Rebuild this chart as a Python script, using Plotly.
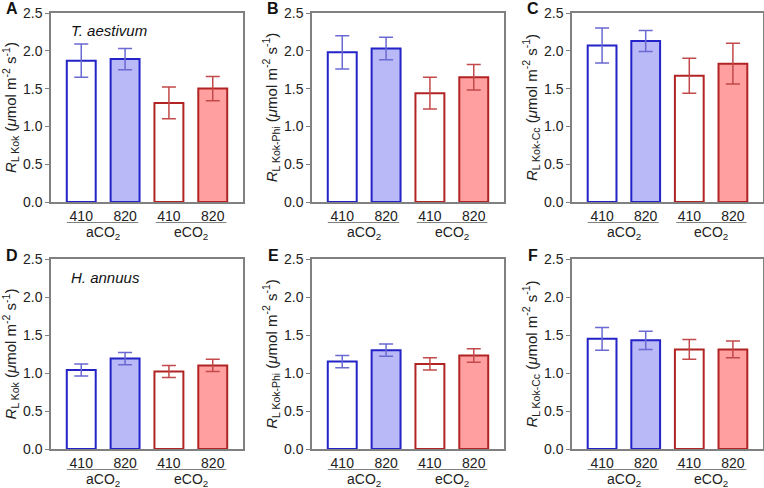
import plotly.graph_objects as go

# bar labels (CO2 growth level) and groups
tick_labels = ["410", "820", "410", "820"]
groups = ["aCO<sub>2</sub>", "eCO<sub>2</sub>"]

# means and error values, panels A-F
a_mean = [1.87, 1.89, 1.31, 1.50]
a_err = [0.22, 0.14, 0.21, 0.16]
b_mean = [1.98, 2.03, 1.44, 1.65]
b_err = [0.22, 0.15, 0.21, 0.17]
c_mean = [2.07, 2.13, 1.67, 1.83]
c_err = [0.23, 0.14, 0.23, 0.27]
d_mean = [1.04, 1.19, 1.02, 1.10]
d_err = [0.08, 0.08, 0.08, 0.08]
e_mean = [1.15, 1.30, 1.12, 1.23]
e_err = [0.08, 0.08, 0.08, 0.09]
f_mean = [1.45, 1.43, 1.31, 1.31]
f_err = [0.15, 0.12, 0.13, 0.11]

letters = ["A", "B", "C", "D", "E", "F"]
subs = ["L Kok", "L Kok-Phi", "L Kok-Cc", "L Kok", "L Kok-Phi", "L Kok-Cc"]
species = {0: "T. aestivum", 3: "H. annuus"}
means = [a_mean, b_mean, c_mean, d_mean, e_mean, f_mean]
errs = [a_err, b_err, c_err, d_err, e_err, f_err]

W, H = 764, 488
col_px = [(51, 243), (312, 504), (572, 763)]
row_px = [(13, 202), (259, 449)]

BLUE = "#2323c8"
BLUE_FILL = "#b9b9f7"
BLUE_ERR = "#6a6ad2"
RED = "#b22424"
RED_FILL = "#ff9f9f"
RED_ERR = "#c24a4a"
FRAME = "#808080"
FONT = "Liberation Sans, Arial, sans-serif"

fig = go.Figure()
annotations = []
shapes = []

for i in range(6):
    r, c = divmod(i, 3)
    n = "" if i == 0 else str(i + 1)
    xa, ya = "x" + n, "y" + n
    x0, x1 = col_px[c]
    y0, y1 = row_px[r]

    fig.add_trace(go.Bar(
        x=[0, 1], y=means[i][:2], xaxis=xa, yaxis=ya, width=0.66,
        marker=dict(color=["white", BLUE_FILL], line=dict(color=BLUE, width=2)),
        error_y=dict(type="data", array=errs[i][:2], color=BLUE_ERR, thickness=1.5, width=7),
        showlegend=False, hoverinfo="skip"))
    fig.add_trace(go.Bar(
        x=[2, 3], y=means[i][2:], xaxis=xa, yaxis=ya, width=0.66,
        marker=dict(color=["white", RED_FILL], line=dict(color=RED, width=2)),
        error_y=dict(type="data", array=errs[i][2:], color=RED_ERR, thickness=1.5, width=7),
        showlegend=False, hoverinfo="skip"))

    fig.update_layout(**{
        "xaxis" + n: dict(
            domain=[x0 / W, x1 / W], anchor=ya, range=[-0.69, 3.69],
            tickvals=[0, 1, 2, 3], ticktext=tick_labels, ticks="",
            showline=True, mirror=True, linecolor=FRAME, linewidth=1.5,
            showgrid=False, zeroline=False, fixedrange=True, automargin=False,
            tickfont=dict(size=14, color="#222")),
        "yaxis" + n: dict(
            domain=[1 - y1 / H, 1 - y0 / H], anchor=xa, range=[0, 2.5],
            dtick=0.5, tickformat=".1f", ticks="outside", ticklen=4,
            tickcolor=FRAME, showline=True, mirror=True, linecolor=FRAME,
            linewidth=1.5, showgrid=False, zeroline=False, automargin=False,
            fixedrange=True, tickfont=dict(size=14, color="#222"),
            title=dict(text="<i>R</i><sub>" + subs[i] + "</sub> (<i>μ</i>mol m<sup>-2</sup> s<sup>-1</sup>)",
                       font=dict(size=15, color="#222"), standoff=3)),
    })

    # panel letter
    annotations.append(dict(
        text="<b>" + letters[i] + "</b>", xref="paper", yref="paper",
        x=(x0 - 39) / W, y=1 - (y0 - 4) / H, showarrow=False,
        font=dict(size=16, color="#111"), xanchor="center", yanchor="middle"))

    if i in species:
        annotations.append(dict(
            text="<i>" + species[i] + "</i>", xref="paper", yref="paper",
            x=(x0 + 18) / W, y=1 - (y0 + 18) / H, showarrow=False,
            font=dict(size=15, color="#111"), xanchor="left", yanchor="middle"))

    # group underlines and labels
    for g, (gx0, gx1, gc) in enumerate([(-0.33, 1.3, 0.5), (1.7, 3.31, 2.5)]):
        shapes.append(dict(
            type="line", xref=xa, yref="paper", x0=gx0, x1=gx1,
            y0=1 - (y1 + 20.5) / H, y1=1 - (y1 + 20.5) / H,
            line=dict(color=FRAME, width=1)))
        annotations.append(dict(
            text=groups[g], xref=xa, yref="paper", x=gc, y=1 - (y1 + 31) / H,
            showarrow=False, font=dict(size=14, color="#222"),
            xanchor="center", yanchor="middle"))

fig.update_layout(
    width=W, height=H, margin=dict(l=0, r=0, t=0, b=0),
    paper_bgcolor="white", plot_bgcolor="white",
    font=dict(family=FONT, color="#222"),
    barmode="overlay", annotations=annotations, shapes=shapes,
)

# drop the page's default body margin so the figure fills the window
fig.write_html("out.html", config={"displayModeBar": False},
               post_script="document.body.style.margin='0';")
